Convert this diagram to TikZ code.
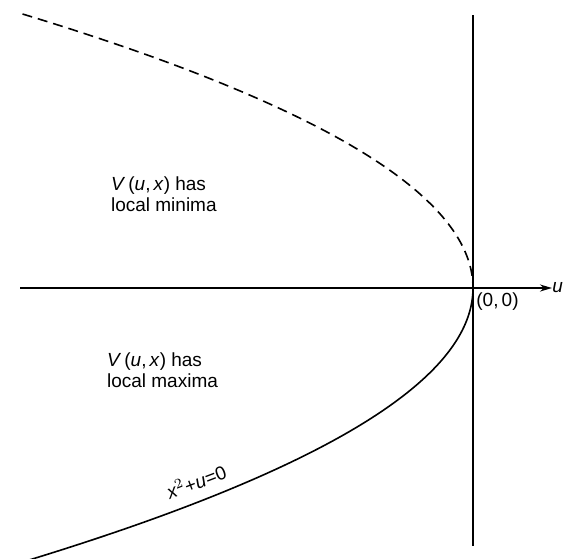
\documentclass[tikz,border=0pt]{standalone}
\usepackage{fontspec}
\setmainfont{Liberation Sans}
\usetikzlibrary{arrows.meta, positioning}

\begin{document}
\begin{tikzpicture}[
    x=0.5pt, y=-0.5pt,
    axis/.style={line width=0.9pt},
    branch/.style={line width=0.8pt},
    region/.style={align=left, font=\fontsize{9.5}{10.5}\selectfont},
    lbl/.style={font=\fontsize{9.5}{11}\selectfont, inner sep=1pt}
]
\useasboundingbox (0,0) rectangle (563,558);

% axes
\coordinate (west) at (20,288);
\coordinate (east) at (552,288);
\coordinate (top) at (473,15);
\coordinate (bottom) at (473,546);
\draw[axis, -{Stealth[length=6pt, width=3.5pt]}] (west) -- (east);
\draw[axis] (top) -- (bottom);
\node[lbl, anchor=west, inner sep=0pt] (uaxis) at (east) {\textit{u}};
\node[lbl, anchor=north west] (origin) at (474,290) {(0,\,0)};

% parabola x^2+u=0 (t in hundreds of px)
\draw[branch, dashed, dash pattern=on 5pt off 3pt]
    plot[domain=-2.74:0, samples=80] ({473-60*\x*\x},{288+100*\x});
\draw[branch]
    plot[domain=0:2.76, samples=80] ({473-60*\x*\x},{288+100*\x});

\node[region, anchor=west] (minima) at (104,194) {\textit{V}\,(\textit{u},\,\textit{x}) has\\local minima};
\node[region, anchor=west] (maxima) at (100,370) {\textit{V}\,(\textit{u},\,\textit{x}) has\\local maxima};
\node[lbl, rotate=21] (curve) at (196,481) {\textit{x}$^2$+\textit{u}=0};

\end{tikzpicture}
\end{document}
